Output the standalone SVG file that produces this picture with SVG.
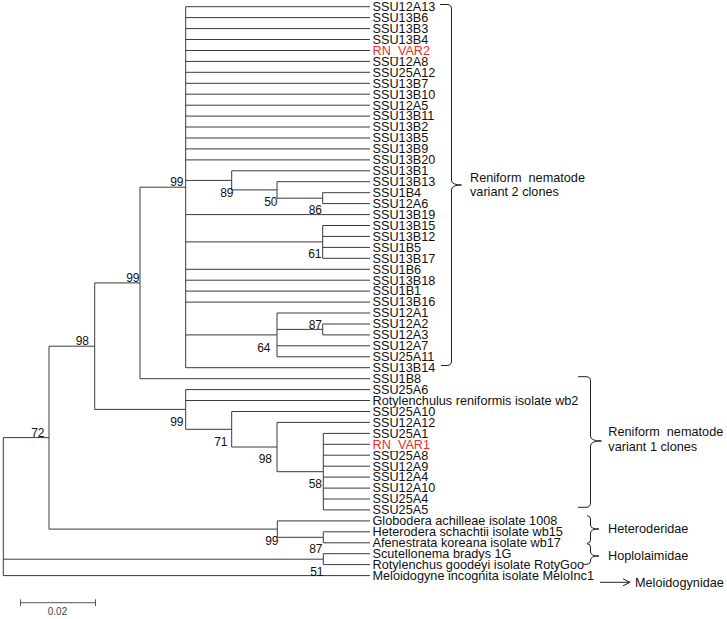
<svg xmlns="http://www.w3.org/2000/svg" width="727" height="619" viewBox="0 0 727 619">
<defs>
<style>
.br{fill:none;stroke:#3a3a3a;stroke-width:1}
.lf{font-family:"Liberation Sans",Arial,sans-serif;font-size:12.7px;fill:#111}
.red{fill:#e8302a}
.bs{font-family:"Liberation Sans",Arial,sans-serif;font-size:12px;fill:#111;text-anchor:end}
.gr{font-family:"Liberation Sans",Arial,sans-serif;font-size:12.7px;fill:#111;white-space:pre}
.bk{fill:none;stroke:#222;stroke-width:1}
</style>
<marker id="arr" markerWidth="10" markerHeight="10" refX="8" refY="4" orient="auto" markerUnits="userSpaceOnUse">
<path d="M1,0.5 L8,4 L1,7.5" fill="none" stroke="#222" stroke-width="1"/>
</marker>
</defs>
<rect width="727" height="619" fill="#fff"/>
<g id="connectors" class="br">
<path id="root" d="M3.3,437.6V575.6M3.3,437.6H49M3.3,559.2H323.3M3.3,575.6H370"/>
<path id="n72" d="M49,346.2V529.1M49,346.2H94.7M49,529.1H277.3"/>
<path id="n98a" d="M94.7,282.9V409.4M94.7,282.9H140M94.7,409.4H185.7"/>
<path id="n99a" d="M140,187.2V378.7M140,187.2H185.7M140,378.7H370"/>
<path id="v2" d="M185.7,6.7V367.7M185.7,6.7H370M185.7,17.6H370M185.7,28.6H370M185.7,39.5H370M185.7,50.5H370M185.7,61.4H370M185.7,72.3H370M185.7,83.3H370M185.7,94.2H370M185.7,105.2H370M185.7,116.1H370M185.7,127H370M185.7,138H370M185.7,148.9H370M185.7,159.9H370M185.7,180.4H231.7M185.7,214.6H370M185.7,241.9H322.7M185.7,269.3H370M185.7,280.2H370M185.7,291.1H370M185.7,302.1H370M185.7,334.9H277M185.7,367.7H370"/>
<path id="n89" d="M231.7,170.8V189.9M231.7,170.8H370M231.7,189.9H277"/>
<path id="n50" d="M277,181.7V198.2M277,181.7H370M277,198.2H322.7"/>
<path id="n86" d="M322.7,192.7V203.6M322.7,192.7H370M322.7,203.6H370"/>
<path id="n61" d="M322.7,225.5V258.3M322.7,225.5H370M322.7,236.4H370M322.7,247.4H370M322.7,258.3H370"/>
<path id="n64" d="M277,313V356.8M277,313H370M277,329.4H322.7M277,345.8H370M277,356.8H370"/>
<path id="n87" d="M322.7,324V334.9M322.7,324H370M322.7,334.9H370"/>
<path id="v1" d="M185.7,389.6V429.3M185.7,389.6H370M185.7,400.5H370M185.7,429.3H231.7"/>
<path id="n71" d="M231.7,411.5V447M231.7,411.5H370M231.7,447H277"/>
<path id="n98b" d="M277,422.4V471.7M277,422.4H370M277,471.7H323.3"/>
<path id="n58" d="M323.3,433.4V509.9M323.3,433.4H370M323.3,444.3H370M323.3,455.2H370M323.3,466.2H370M323.3,477.1H370M323.3,488.1H370M323.3,499H370M323.3,509.9H370"/>
<path id="n99c" d="M277.3,520.9V537.3M277.3,520.9H370M277.3,537.3H323.3"/>
<path id="n87b" d="M323.3,531.8V542.8M323.3,531.8H370M323.3,542.8H370"/>
<path id="nscut" d="M323.3,553.7V564.6M323.3,553.7H370M323.3,564.6H370"/>
</g>
<g id="bootstrap" class="bs">
<text x="183.5" y="186">99</text>
<text x="233.5" y="197">89</text>
<text x="277.5" y="206">50</text>
<text x="322" y="214.3">86</text>
<text x="321.5" y="258.3">61</text>
<text x="322" y="328.6">87</text>
<text x="270.5" y="352">64</text>
<text x="139.5" y="282">99</text>
<text x="89" y="344.6">98</text>
<text x="44.5" y="436.6">72</text>
<text x="183.5" y="426">99</text>
<text x="227.5" y="446">71</text>
<text x="272" y="463.3">98</text>
<text x="322" y="487.6">58</text>
<text x="278.5" y="545.3">99</text>
<text x="322.5" y="553.3">87</text>
<text x="323.5" y="576">51</text>
</g>
<g id="leaves" class="lf">
<text id="l1" x="372.5" y="11">SSU12A13</text>
<text id="l2" x="372.5" y="21.9">SSU13B6</text>
<text id="l3" x="372.5" y="32.9">SSU13B3</text>
<text id="l4" x="372.5" y="43.8">SSU13B4</text>
<text id="l5" x="372.5" y="54.8" class="red">RN_VAR2</text>
<text id="l6" x="372.5" y="65.7">SSU12A8</text>
<text id="l7" x="372.5" y="76.6">SSU25A12</text>
<text id="l8" x="372.5" y="87.6">SSU13B7</text>
<text id="l9" x="372.5" y="98.5">SSU13B10</text>
<text id="l10" x="372.5" y="109.5">SSU12A5</text>
<text id="l11" x="372.5" y="120.4">SSU13B11</text>
<text id="l12" x="372.5" y="131.3">SSU13B2</text>
<text id="l13" x="372.5" y="142.3">SSU13B5</text>
<text id="l14" x="372.5" y="153.2">SSU13B9</text>
<text id="l15" x="372.5" y="164.2">SSU13B20</text>
<text id="l16" x="372.5" y="175.1">SSU13B1</text>
<text id="l17" x="372.5" y="186">SSU13B13</text>
<text id="l18" x="372.5" y="197">SSU1B4</text>
<text id="l19" x="372.5" y="207.9">SSU12A6</text>
<text id="l20" x="372.5" y="218.9">SSU13B19</text>
<text id="l21" x="372.5" y="229.8">SSU13B15</text>
<text id="l22" x="372.5" y="240.7">SSU13B12</text>
<text id="l23" x="372.5" y="251.7">SSU1B5</text>
<text id="l24" x="372.5" y="262.6">SSU13B17</text>
<text id="l25" x="372.5" y="273.6">SSU1B6</text>
<text id="l26" x="372.5" y="284.5">SSU13B18</text>
<text id="l27" x="372.5" y="295.4">SSU1B1</text>
<text id="l28" x="372.5" y="306.4">SSU13B16</text>
<text id="l29" x="372.5" y="317.3">SSU12A1</text>
<text id="l30" x="372.5" y="328.3">SSU12A2</text>
<text id="l31" x="372.5" y="339.2">SSU12A3</text>
<text id="l32" x="372.5" y="350.1">SSU12A7</text>
<text id="l33" x="372.5" y="361.1">SSU25A11</text>
<text id="l34" x="372.5" y="372">SSU13B14</text>
<text id="l35" x="372.5" y="383">SSU1B8</text>
<text id="l36" x="372.5" y="393.9">SSU25A6</text>
<text id="l37" x="372.5" y="404.8">Rotylenchulus reniformis isolate wb2</text>
<text id="l38" x="372.5" y="415.8">SSU25A10</text>
<text id="l39" x="372.5" y="426.7">SSU12A12</text>
<text id="l40" x="372.5" y="437.7">SSU25A1</text>
<text id="l41" x="372.5" y="448.6" class="red">RN_VAR1</text>
<text id="l42" x="372.5" y="459.5">SSU25A8</text>
<text id="l43" x="372.5" y="470.5">SSU12A9</text>
<text id="l44" x="372.5" y="481.4">SSU12A4</text>
<text id="l45" x="372.5" y="492.4">SSU12A10</text>
<text id="l46" x="372.5" y="503.3">SSU25A4</text>
<text id="l47" x="372.5" y="514.2">SSU25A5</text>
<text id="l48" x="372.5" y="525.2">Globodera achilleae isolate 1008</text>
<text id="l49" x="372.5" y="536.1">Heterodera schachtii isolate wb15</text>
<text id="l50" x="372.5" y="547.1">Afenestrata koreana isolate wb17</text>
<text id="l51" x="372.5" y="558">Scutellonema bradys 1G</text>
<text id="l52" x="372.5" y="568.9">Rotylenchus goodeyi isolate RotyGoo</text>
<text id="l53" x="372.5" y="579.9">Meloidogyne incognita isolate MeloInc1</text>
</g>
<g id="group-variant2">
<path class="bk" d="M440,4.5H447Q451.5,4.5 451.5,9V180Q451.5,185 461.5,185Q451.5,185 451.5,190V361Q451.5,365.5 447,365.5H441"/>
<text class="gr" x="470" y="181.6">Reniform  nematode</text>
<text class="gr" x="470" y="196">variant 2 clones</text>
</g>
<g id="group-variant1">
<path class="bk" d="M578,376.7H586Q590.5,376.7 590.5,381V436Q590.5,441 601.5,441Q590.5,441 590.5,446V503Q590.5,507.3 586,507.3H578"/>
<text class="gr" x="608.3" y="436">Reniform  nematode</text>
<text class="gr" x="608.3" y="451">variant 1 clones</text>
</g>
<g id="group-heteroderidae">
<path class="bk" d="M587,515.7Q590.5,515.7 590.5,519V525Q590.5,529 599,529Q590.5,529 590.5,533V540Q590.5,543.3 587,543.3"/>
<text class="gr" x="608" y="533.3">Heteroderidae</text>
</g>
<g id="group-hoplolaimidae">
<path class="bk" d="M587,543.8Q590.5,543.8 590.5,547V552Q590.5,556 599,556Q590.5,556 590.5,560V561Q590.5,564.3 587,564.3H583"/>
<text class="gr" x="608" y="560.3">Hoplolaimidae</text>
</g>
<g id="group-meloidogynidae">
<path class="bk" d="M600,582.3H630" marker-end="url(#arr)"/>
<text class="gr" x="635" y="586.6">Meloidogynidae</text>
</g>
<g id="scalebar">
<path d="M20,602.7H95.7M20.5,599.3V606M95.5,599.3V606" fill="none" stroke="#555" stroke-width="1"/>
<text x="57.5" y="615" font-family="Liberation Sans,Arial,sans-serif" font-size="10" fill="#444" text-anchor="middle">0.02</text>
</g>
</svg>
